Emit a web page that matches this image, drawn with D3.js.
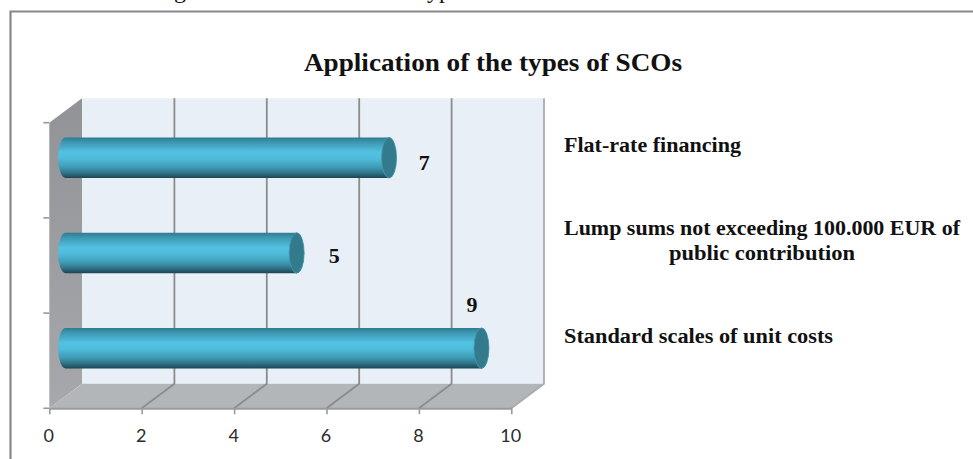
<!DOCTYPE html>
<html>
<head>
<meta charset="utf-8">
<script src="https://cdn.jsdelivr.net/npm/d3@7"></script>
<style>
  html, body { margin: 0; padding: 0; background: #fff; overflow: hidden; }
  svg { display: block; }
  .serif { font-family: "Liberation Serif", serif; font-weight: bold; fill: #111; }
</style>
</head>
<body>
<div id="chart"></div>
<script>
// Dados do gráfico
const chartTitle = "Application of the types of SCOs";
const categories = ["Flat-rate financing", "Lump sums not exceeding 100.000 EUR of public contribution", "Standard scales of unit costs"];
const values = [7, 5, 9];
const xTicks = [0, 2, 4, 6, 8, 10];

const width = 973;
const height = 459;

// Caixa 3D: frente e deslocamento de profundidade
const front = { left: 49.3, right: 511.3, top: 122.7, bottom: 408.3 };
const depth = { x: 32.7, y: -24.5 };

const x = d3.scaleLinear().domain([0, 10]).range([front.left, front.right]);
const y = d3.scaleBand().domain(categories).range([front.top, front.bottom]);

const svg = d3.select("#chart").append("svg")
  .attr("width", width)
  .attr("height", height)
  .attr("viewBox", `0 0 ${width} ${height}`);

const defs = svg.append("defs");

function addGradient(id, stops) {
  const g = defs.append("linearGradient").attr("id", id)
    .attr("x1", 0).attr("y1", 0).attr("x2", 0).attr("y2", 1);
  stops.forEach(s => g.append("stop").attr("offset", s[0]).attr("stop-color", s[1]));
}
addGradient("barFill", [[0, "#2f7a90"], [0.12, "#3c97b1"], [0.36, "#53c1e1"], [0.52, "#4fbcdb"], [0.74, "#3e9ab4"], [0.88, "#2f7286"], [1, "#1c4553"]]);
addGradient("wallFill", [[0, "#929396"], [1, "#a6a8ab"]]);

// Moldura (cortada na direita e embaixo)
svg.append("path")
  .attr("d", `M10.5,${height} V11.5 H${width}`)
  .attr("fill", "none")
  .attr("stroke", "#888")
  .attr("stroke-width", 2.2);

// Restos da linha de texto cortada no topo
[["g", 174], ["yp", 427]].forEach(t => {
  svg.append("text").attr("x", t[1]).attr("y", -2)
    .attr("font-family", "Liberation Serif").attr("font-size", 24).attr("fill", "#111")
    .text(t[0]);
});

// Título
svg.append("text").attr("class", "serif")
  .attr("x", 304).attr("y", 71)
  .attr("font-size", 25)
  .attr("textLength", 378).attr("lengthAdjust", "spacingAndGlyphs")
  .text(chartTitle);

// Paredes
const pts = a => a.map(p => p.join(",")).join(" ");
svg.append("polygon").attr("fill", "#e8eff6")
  .attr("points", pts([[front.left + depth.x, front.top + depth.y], [front.right + depth.x, front.top + depth.y],
    [front.right + depth.x, front.bottom + depth.y], [front.left + depth.x, front.bottom + depth.y]]));
svg.append("polygon").attr("fill", "url(#wallFill)")
  .attr("points", pts([[front.left, front.top], [front.left + depth.x, front.top + depth.y],
    [front.left + depth.x, front.bottom + depth.y], [front.left, front.bottom]]));
svg.append("polygon").attr("fill", "#b2b6b9")
  .attr("points", pts([[front.left, front.bottom], [front.left + depth.x, front.bottom + depth.y],
    [front.right + depth.x, front.bottom + depth.y], [front.right, front.bottom]]));

// Grade: desce a parede do fundo e atravessa o piso
svg.append("g").selectAll("path")
  .data(xTicks.slice(1))
  .enter().append("path")
  .attr("fill", "none")
  .attr("stroke", d => d === 10 ? "#a9abad" : "#8b8c8d")
  .attr("stroke-width", 1.8)
  .attr("d", d => `M${x(d) + depth.x},${front.top + depth.y} V${front.bottom + depth.y} L${x(d)},${front.bottom}`);

// Eixo x
const xAxis = svg.append("g")
  .attr("transform", `translate(0,${front.bottom})`)
  .call(d3.axisBottom(x).tickValues(xTicks).tickSize(6).tickPadding(15).tickSizeOuter(0));
xAxis.select(".domain").attr("stroke", "#989a9c").attr("stroke-width", 2);
xAxis.selectAll("line").attr("stroke", "#989a9c").attr("stroke-width", 1.6);
xAxis.selectAll("text")
  .attr("font-family", "Lato").attr("font-size", 18).attr("fill", "#2b2b2b")
  .attr("dx", -1);

// Marcas do eixo y nas bordas das faixas
svg.append("g").selectAll("line")
  .data(d3.range(categories.length + 1))
  .enter().append("line")
  .attr("x1", front.left - 6).attr("x2", front.left)
  .attr("y1", i => front.top + i * y.bandwidth())
  .attr("y2", i => front.top + i * y.bandwidth())
  .attr("stroke", "#989a9c").attr("stroke-width", 1.6);

// Cilindros no meio da profundidade
const capRx = 7.5;
const barH = 40.5;
const bars = svg.append("g").selectAll("g")
  .data(categories)
  .enter().append("g")
  .attr("transform", (d, i) => `translate(${depth.x / 2},${y(d) + y.bandwidth() / 2 + depth.y / 2 - barH / 2 - 0.3})`);

bars.append("path")
  .attr("fill", "url(#barFill)")
  .attr("d", (d, i) => {
    const r = barH / 2;
    return `M${x(0)},0 H${x(values[i])} A${capRx},${r} 0 0 1 ${x(values[i])},${barH} H${x(0)} A${capRx},${r} 0 0 1 ${x(0)},0 Z`;
  });
bars.append("ellipse")
  .attr("cx", (d, i) => x(values[i]))
  .attr("cy", barH / 2)
  .attr("rx", capRx)
  .attr("ry", barH / 2)
  .attr("fill", "#337a8d")
  .attr("stroke", "#3f9ab3")
  .attr("stroke-width", 0.8);

// Rótulos de valor (colocados à mão no original)
const labelShift = [[51.5, 170], [54, 263], [7, 312]];
svg.append("g").selectAll("text")
  .data(values)
  .enter().append("text")
  .attr("class", "serif")
  .attr("font-size", 22)
  .attr("text-anchor", "middle")
  .attr("x", (d, i) => x(d) + labelShift[i][0])
  .attr("y", (d, i) => labelShift[i][1])
  .text(d => d);

// Rótulos das categorias à direita
const catLines = [[categories[0]], ["Lump sums not exceeding 100.000 EUR of", "public contribution"], [categories[2]]];
const catRows = [
  [{ x: 564, y: 152, w: 177 }],
  [{ x: 564, y: 235, w: 396 }, { x: 669, y: 259.5, w: 186 }],
  [{ x: 564, y: 343, w: 269 }]
];
catLines.forEach((lines, i) => {
  lines.forEach((line, j) => {
    svg.append("text").attr("class", "serif")
      .attr("x", catRows[i][j].x).attr("y", catRows[i][j].y)
      .attr("font-size", 20.5)
      .attr("textLength", catRows[i][j].w).attr("lengthAdjust", "spacingAndGlyphs")
      .text(line);
  });
});
</script>
</body>
</html>
